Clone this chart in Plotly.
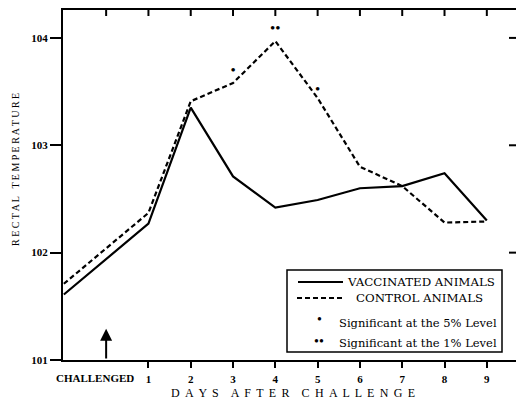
import plotly.graph_objects as go

# ---- data ----
days = [-1, 1, 2, 3, 4, 5, 6, 7, 8, 9]
vaccinated = [101.61, 102.27, 103.35, 102.71, 102.42, 102.49, 102.60, 102.62, 102.74, 102.30]
control = [101.71, 102.37, 103.41, 103.58, 103.97, 103.44, 102.80, 102.62, 102.28, 102.29]
sig5_days = [3, 5]
sig5_temp = [103.69, 103.51]
sig1_days = [4]
sig1_temp = [104.08]
x_tick_vals = [1, 2, 3, 4, 5, 6, 7, 8, 9]
x_tick_text = ["1", "2", "3", "4", "5", "6", "7", "8", "9"]
y_tick_vals = [101, 102, 103, 104]
y_tick_text = ["101", "102", "103", "104"]
challenge_day = 0

FONT = "Liberation Serif"
LFONT = "DejaVu Serif"
XR = [-1.02, 9.69]
YR = [101, 104.26]


def spaced(s, gap=" \u2009", wordgap="\u00a0\u00a0\u00a0\u00a0"):
    return wordgap.join(gap.join(list(w)) for w in s.split(" "))


fig = go.Figure()
fig.add_trace(go.Scatter(x=days, y=vaccinated, mode="lines",
                         line=dict(color="black", width=2.2), hoverinfo="skip"))
fig.add_trace(go.Scatter(x=days, y=control, mode="lines",
                         line=dict(color="black", width=2.2, dash="5px,3px"), hoverinfo="skip"))
fig.add_trace(go.Scatter(x=sig5_days, y=sig5_temp, mode="text", text=["•"] * len(sig5_days),
                         textfont=dict(family=FONT, size=15, color="black"), hoverinfo="skip"))
fig.add_trace(go.Scatter(x=sig1_days, y=sig1_temp, mode="text", text=["••"] * len(sig1_days),
                         textfont=dict(family=FONT, size=15, color="black"), hoverinfo="skip"))


def px(x):
    return (x - 63) / 453


def py(y):
    return (360 - y) / 350


# inward frame ticks along the top (every day) and right edge (102-104)
for d in [challenge_day] + x_tick_vals:
    fig.add_shape(type="line", xref="x", yref="paper", x0=d, x1=d, y0=1, y1=1 - 6 / 350,
                  line=dict(color="black", width=2))
for t in y_tick_vals[1:]:
    fig.add_shape(type="line", xref="paper", yref="y", x0=1, x1=1 - 7 / 453, y0=t, y1=t,
                  line=dict(color="black", width=2))

# arrow at challenge day
fig.add_annotation(x=challenge_day, y=101.29, ax=challenge_day, ay=101.0,
                   xref="x", yref="y", axref="x", ayref="y", text="",
                   showarrow=True, arrowhead=2, arrowsize=1.2, arrowwidth=2, arrowcolor="black")
fig.add_annotation(x=-0.26, y=0, xref="x", yref="paper", xanchor="center", yanchor="middle",
                   yshift=-18, text="<b>CHALLENGED</b>", showarrow=False,
                   font=dict(family=FONT, size=11, color="black"))

# axis titles (letter-spaced)
fig.add_annotation(xref="paper", yref="paper", x=px(293), y=py(393), xanchor="center", yanchor="middle",
                   text=spaced("DAYS AFTER CHALLENGE"), showarrow=False,
                   font=dict(family=FONT, size=12, color="black"))
fig.add_annotation(xref="paper", yref="paper", x=px(15), y=py(170), xanchor="center", yanchor="middle",
                   text=spaced("RECTAL TEMPERATURE", gap=" ", wordgap="\u00a0\u00a0\u00a0"),
                   showarrow=False, textangle=-90,
                   font=dict(family=FONT, size=10, color="black"))

# legend box
fig.add_shape(type="rect", xref="paper", yref="paper", x0=px(287), x1=px(502), y0=py(352), y1=py(270),
              line=dict(color="black", width=1.5), fillcolor="white", layer="above")
fig.add_shape(type="line", xref="paper", yref="paper", x0=px(298), x1=px(343), y0=py(282), y1=py(282),
              line=dict(color="black", width=2.2), layer="above")
fig.add_shape(type="line", xref="paper", yref="paper", x0=px(297), x1=px(343), y0=py(298), y1=py(298),
              line=dict(color="black", width=2.2, dash="5px,3px"), layer="above")
legend_texts = [
    (348, 282, "VACCINATED ANIMALS", 11.8),
    (357, 298, "CONTROL ANIMALS", 11.8),
    (340, 323, "Significant at the 5% Level", 11.5),
    (340, 343, "Significant at the 1% Level", 11.5),
]
for x, y, t, s in legend_texts:
    fig.add_annotation(xref="paper", yref="paper", x=px(x), y=py(y), xanchor="left", yanchor="middle",
                       xshift=-3, text=t, showarrow=False, font=dict(family=LFONT, size=s, color="black"))
fig.add_annotation(xref="paper", yref="paper", x=px(319), y=py(319), xanchor="center", yanchor="middle",
                   text="•", showarrow=False, font=dict(family=FONT, size=14, color="black"))
fig.add_annotation(xref="paper", yref="paper", x=px(319), y=py(341), xanchor="center", yanchor="middle",
                   text="••", showarrow=False, font=dict(family=FONT, size=14, color="black"))

fig.update_layout(
    width=516, height=403,
    margin=dict(l=63, r=0, t=10, b=43),
    paper_bgcolor="white", plot_bgcolor="white",
    showlegend=False,
    font=dict(family=FONT, color="black"),
    xaxis=dict(range=XR, showgrid=False, zeroline=False, showline=True, mirror=True,
               linecolor="black", linewidth=2,
               ticks="outside", ticklen=6, tickwidth=2, tickcolor="black", ticklabelstandoff=2,
               tickvals=x_tick_vals, ticktext=["<b>%s</b>" % t for t in x_tick_text],
               tickfont=dict(family=FONT, size=11, color="black")),
    yaxis=dict(range=YR, showgrid=False, zeroline=False, showline=True, linecolor="black", linewidth=2,
               ticks="outside", ticklen=11, tickwidth=2, tickcolor="black",
               tickvals=y_tick_vals, ticktext=["<b>%s</b>" % t for t in y_tick_text],
               tickfont=dict(family=FONT, size=11, color="black")),
)

fig.write_html("out.html", config={"displayModeBar": False},
               post_script="document.body.style.margin='0';document.body.style.overflow='hidden';")
